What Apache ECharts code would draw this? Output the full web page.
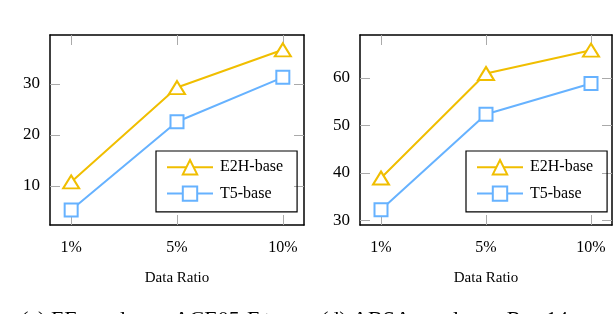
<!DOCTYPE html>
<html><head><meta charset="utf-8">
<script src="https://cdn.jsdelivr.net/npm/echarts@6/dist/echarts.min.js"></script>
<style>html,body{margin:0;padding:0;background:#fff}#c{width:616px;height:314px}</style>
</head><body><div id="c"></div>
<script>
const categories = ['1%', '5%', '10%'];
const e2hEE = [10.8, 29.3, 36.7];
const t5EE = [5.3, 22.6, 31.3];
const e2hABSA = [38.9, 60.9, 65.8];
const t5ABSA = [32.2, 52.3, 58.8];
const yTicksEE = [10, 20, 30];
const yTicksABSA = [30, 40, 50, 60];
const seriesNames = ['E2H-base', 'T5-base'];
const xAxisName = 'Data Ratio';
const captions = ['(c) EE results on ACE05-E+', '(d) ABSA results on Rest14'];

const GOLD = 'rgb(240,190,0)';
const BLUE = 'rgb(102,178,255)';
const FONT = '"Liberation Serif", "DejaVu Serif", serif';
const chart = echarts.init(document.getElementById('c'), null, {renderer: 'canvas'});

const grids = [
  {left: 50, top: 35, width: 254, height: 190},
  {left: 360, top: 35, width: 252, height: 190}
];
const yRanges = [[2.35, 39.6], [29, 69]];
const yTicks = [yTicksEE, yTicksABSA];
const xIdx = categories.map((c, i) => i);

const xAxes = [], yAxes = [];
grids.forEach((g, gi) => {
  const common = {
    type: 'value', gridIndex: gi, min: -0.2, max: 2.2,
    axisLine: {show: true, onZero: false, lineStyle: {color: '#000', width: 1.5}},
    axisTick: {show: true, inside: true, length: 10, customValues: xIdx, lineStyle: {color: '#aaa', width: 1}},
    splitLine: {show: false}
  };
  xAxes.push(Object.assign({}, common, {
    position: 'bottom',
    name: xAxisName, nameLocation: 'middle', nameGap: 46,
    nameTextStyle: {fontFamily: FONT, fontSize: 15, color: '#000'},
    axisLabel: {show: true, customValues: xIdx, margin: 15, fontFamily: FONT, fontSize: 16, color: '#000',
      formatter: v => categories[Math.round(v)]}
  }));
  xAxes.push(Object.assign({}, common, {position: 'top', axisLabel: {show: false}}));
  const yc = {
    type: 'value', gridIndex: gi, min: yRanges[gi][0], max: yRanges[gi][1],
    axisLine: {show: true, onZero: false, lineStyle: {color: '#000', width: 1.5}},
    axisTick: {show: true, inside: true, length: 10, customValues: yTicks[gi], lineStyle: {color: '#aaa', width: 1}},
    splitLine: {show: false}
  };
  yAxes.push(Object.assign({}, yc, {position: 'left',
    axisLabel: {show: true, customValues: yTicks[gi], margin: 10, fontFamily: FONT, fontSize: 17, color: '#000'}}));
  yAxes.push(Object.assign({}, yc, {position: 'right', axisLabel: {show: false}}));
});

function mk(name, vals, gi, color, symbol, size) {
  return {
    name: name, type: 'line', xAxisIndex: gi * 2, yAxisIndex: gi * 2,
    data: vals.map((v, i) => [i, v]),
    symbol: symbol, symbolSize: size, showAllSymbol: true,
    lineStyle: {color: color, width: 2},
    itemStyle: {color: '#fff', borderColor: color, borderWidth: 2},
    emphasis: {disabled: true}, animation: false, z: 3
  };
}

const legendBase = {
  orient: 'vertical', top: 151, padding: [8, 14, 10, 10], itemGap: 10,
  itemWidth: 46, itemHeight: 18, borderColor: '#000', borderWidth: 1.2,
  textStyle: {fontFamily: FONT, fontSize: 16, color: '#000', padding: [0, 0, 0, 2]},
  data: seriesNames, selectedMode: false
};

chart.setOption({
  animation: false,
  grid: grids,
  xAxis: xAxes,
  yAxis: yAxes,
  legend: [
    Object.assign({}, legendBase, {left: 156}),
    Object.assign({}, legendBase, {left: 466})
  ],
  series: [
    mk(seriesNames[0], e2hEE, 0, GOLD, 'triangle', [16, 13]),
    mk(seriesNames[1], t5EE, 0, BLUE, 'rect', 13),
    mk(seriesNames[0], e2hABSA, 1, GOLD, 'triangle', [16, 13]),
    mk(seriesNames[1], t5ABSA, 1, BLUE, 'rect', 13)
  ],
  graphic: [
    {type: 'text', left: 21, top: 309, style: {text: captions[0], font: '22px ' + FONT, fill: '#000'}},
    {type: 'text', left: 321, top: 309, style: {text: captions[1], font: '22px ' + FONT, fill: '#000'}}
  ]
});
</script></body></html>
